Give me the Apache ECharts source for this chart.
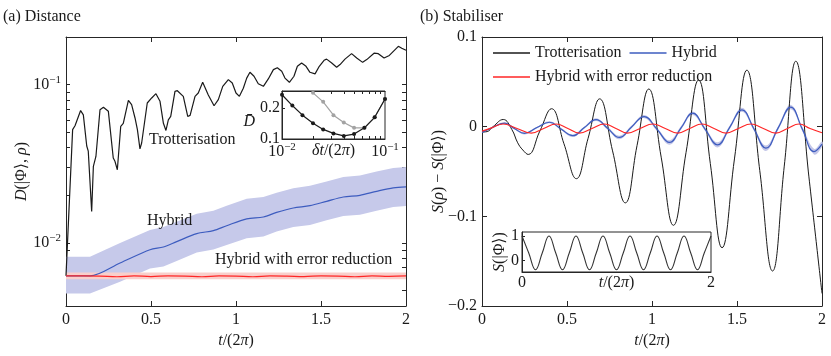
<!DOCTYPE html>
<html>
<head>
<meta charset="utf-8">
<script src="https://cdn.jsdelivr.net/npm/echarts@6/dist/echarts.min.js"></script>
<style>
  html, body { margin: 0; padding: 0; background: #fff; }
  #chart { width: 831px; height: 356px; }
</style>
</head>
<body>
<div id="chart"></div>
<script>
// ---- (a) Distance, main panel ----
const trotTimeA = [0, 0.039, 0.053, 0.086, 0.102, 0.122, 0.131, 0.151, 0.161, 0.176, 0.2, 0.22, 0.249, 0.278, 0.288, 0.302, 0.322, 0.337, 0.367, 0.386, 0.406, 0.42, 0.435, 0.445, 0.478, 0.504, 0.529, 0.553, 0.573, 0.588, 0.602, 0.616, 0.641, 0.655, 0.69, 0.716, 0.73, 0.759, 0.778, 0.804, 0.837, 0.871, 0.896, 0.922, 0.955, 0.978, 1.0, 1.02, 1.043, 1.063, 1.082, 1.106, 1.131, 1.161, 1.19, 1.22, 1.243, 1.269, 1.288, 1.314, 1.341, 1.361, 1.386, 1.412, 1.435, 1.465, 1.49, 1.518, 1.533, 1.563, 1.592, 1.612, 1.641, 1.68, 1.71, 1.745, 1.769, 1.812, 1.837, 1.871, 1.902, 1.955, 1.975, 2.0];
const trotDistA = [0.0062, 0.052, 0.055, 0.0686, 0.0645, 0.041, 0.038, 0.0158, 0.0305, 0.0352, 0.0695, 0.072, 0.068, 0.0344, 0.0328, 0.029, 0.0546, 0.057, 0.0796, 0.0748, 0.0616, 0.052, 0.0393, 0.0428, 0.0766, 0.0824, 0.0877, 0.0785, 0.057, 0.0514, 0.060, 0.063, 0.0908, 0.0916, 0.0844, 0.063, 0.064, 0.0844, 0.0886, 0.1035, 0.086, 0.0736, 0.0804, 0.0976, 0.1076, 0.1025, 0.0886, 0.0844, 0.095, 0.110, 0.1197, 0.113, 0.1014, 0.0976, 0.1087, 0.1244, 0.128, 0.1214, 0.110, 0.1035, 0.113, 0.1306, 0.137, 0.1306, 0.1197, 0.117, 0.1306, 0.1425, 0.145, 0.137, 0.1287, 0.134, 0.145, 0.157, 0.1474, 0.1383, 0.144, 0.158, 0.157, 0.1474, 0.153, 0.1746, 0.170, 0.165];

const hybTimeA = [0, 0.141, 0.318, 0.494, 0.573, 0.651, 0.769, 0.867, 0.945, 1.063, 1.161, 1.239, 1.337, 1.435, 1.533, 1.631, 1.729, 1.827, 1.925, 2.0];
const hybDistA = [0.0062, 0.0062, 0.00748, 0.00907, 0.00943, 0.0102, 0.01146, 0.01197, 0.01286, 0.0142, 0.0146, 0.0156, 0.01663, 0.0172, 0.01833, 0.01953, 0.0200, 0.0212, 0.0223, 0.0226];
const hybHiA = [0.0082, 0.0082, 0.0100, 0.0121, 0.0126, 0.0136, 0.0153, 0.0160, 0.0172, 0.0190, 0.0195, 0.0208, 0.0222, 0.0230, 0.0245, 0.0261, 0.0267, 0.0283, 0.0298, 0.0302];
const hybLoA = [0.0048, 0.0048, 0.0057, 0.0069, 0.0071, 0.0077, 0.0087, 0.0091, 0.0097, 0.0107, 0.0110, 0.0118, 0.0126, 0.0130, 0.0139, 0.0148, 0.0151, 0.0160, 0.0169, 0.0171];

const redTimeA = [0, 0.1, 0.2, 0.3, 0.4, 0.5, 0.6, 0.7, 0.8, 0.9, 1.0, 1.1, 1.2, 1.3, 1.4, 1.5, 1.6, 1.7, 1.8, 1.9, 2.0];
const redDistA = [0.0062, 0.0062, 0.00618, 0.00612, 0.0062, 0.00614, 0.0062, 0.00618, 0.00612, 0.0062, 0.00618, 0.00612, 0.0062, 0.00618, 0.00614, 0.0062, 0.00618, 0.00612, 0.0062, 0.00616, 0.0062];
const redBandTimeA = [0, 1, 2];
const redHiA = [0.0065, 0.0065, 0.0065];
const redLoA = [0.0059, 0.0059, 0.0059];

// ---- (a) inset ----
const dtInset = [0.01, 0.0126, 0.0158, 0.02, 0.0251, 0.0316, 0.0398, 0.0501, 0.0631, 0.0794, 0.1];
const dBarBlack = [0.243, 0.208, 0.177, 0.151, 0.131, 0.118, 0.11, 0.116, 0.136, 0.17, 0.229];
const dBarGrey = [null, null, null, 0.249, 0.22, 0.177, 0.153, 0.136, 0.136, 0.17, 0.229];

// ---- (b) Stabiliser, main panel ----
const trotTimeB = [0, 0.03, 0.065, 0.125, 0.175, 0.21, 0.24, 0.272, 0.34, 0.409, 0.482, 0.555, 0.624, 0.692, 0.768, 0.843, 0.912, 0.981, 1.054, 1.126, 1.2, 1.274, 1.343, 1.412, 1.485, 1.558, 1.634, 1.709, 1.778, 1.846, 1.923, 2.0];
const trotStabB = [-0.006, -0.0055, 0.0, 0.008, -0.003, -0.018, -0.026, -0.031, -0.005, 0.020, -0.019, -0.058, -0.013, 0.031, -0.027, -0.085, -0.021, 0.042, -0.034, -0.110, -0.029, 0.052, -0.041, -0.135, -0.036, 0.063, -0.049, -0.161, -0.044, 0.073, -0.056, -0.186];

const hybTimeB = [0, 0.05, 0.133, 0.19, 0.25, 0.323, 0.397, 0.465, 0.534, 0.602, 0.671, 0.74, 0.808, 0.88, 0.954, 1.03, 1.103, 1.171, 1.239, 1.312, 1.386, 1.457, 1.529, 1.6, 1.67, 1.743, 1.816, 1.885, 1.953, 2.0];
const hybStabB = [-0.0064, -0.002, 0.004, -0.002, -0.0075, -0.001, 0.0049, -0.0026, -0.0101, -0.001, 0.0079, -0.002, -0.012, -0.0003, 0.0113, -0.003, -0.0176, -0.0013, 0.015, -0.0027, -0.0203, -0.0008, 0.0188, -0.0026, -0.024, -0.0011, 0.0218, -0.003, -0.0278, -0.0195];
const hybSpreadB = [0.0005, 0.0008, 0.001, 0.001, 0.0012, 0.001, 0.0012, 0.0012, 0.0015, 0.0012, 0.0015, 0.0015, 0.002, 0.0015, 0.0018, 0.0018, 0.0025, 0.002, 0.002, 0.002, 0.0028, 0.002, 0.0022, 0.0022, 0.003, 0.0022, 0.0025, 0.0025, 0.0032, 0.003];

const redTimeB = [0, 0.06, 0.123, 0.206, 0.29, 0.363, 0.436, 0.505, 0.573, 0.647, 0.72, 0.788, 0.856, 0.93, 1.005, 1.078, 1.151, 1.222, 1.294, 1.365, 1.435, 1.508, 1.582, 1.655, 1.728, 1.797, 1.865, 1.93, 2.0];
const redStabB = [-0.005, -0.001, 0.003, -0.002, -0.0072, -0.002, 0.003, -0.002, -0.0072, -0.002, 0.003, -0.002, -0.0072, -0.002, 0.003, -0.002, -0.0072, -0.002, 0.003, -0.002, -0.0072, -0.002, 0.003, -0.002, -0.0072, -0.002, 0.003, -0.002, -0.0068];

// ---- (b) inset ----
const stabTime = [0, 0.0714, 0.1429, 0.2143, 0.2857, 0.3571, 0.4286, 0.5, 0.5714, 0.6429, 0.7143, 0.7857, 0.8571, 0.9286, 1, 1.0714, 1.1429, 1.2143, 1.2857, 1.3571, 1.4286, 1.5, 1.5714, 1.6429, 1.7143, 1.7857, 1.8571, 1.9286, 2];
const stabPure = [1, 0.31, -0.37, 0.31, 1, 0.31, -0.37, 0.31, 1, 0.31, -0.37, 0.31, 1, 0.31, -0.37, 0.31, 1, 0.31, -0.37, 0.31, 1, 0.31, -0.37, 0.31, 1, 0.31, -0.37, 0.31, 1];

// ---- ticks ----
const logLabelTicks = [0.01, 0.1];
const logTicks = [0.005, 0.006, 0.007, 0.008, 0.009, 0.01, 0.02, 0.03, 0.04, 0.05, 0.06, 0.07, 0.08, 0.09, 0.1];
const insetXTicks = [0.02, 0.03, 0.04, 0.05, 0.06, 0.07, 0.08, 0.09];
const insetXLabels = [0.01, 0.1];
const insetYLabels = [0.1, 0.2];
const stabInsetXLabels = [0, 2];
const stabInsetYLabels = [0, 1];

const FONT = '"Liberation Serif", "DejaVu Serif", serif';
const INK = '#1a1a1a';
const AXIS = '#262626';
const BLUE = '#3d5cbf';
const RED = '#ff2626';

function zip(xs, ys) {
  let out = [];
  for (let i = 0; i < Math.min(xs.length, ys.length); i++) out.push([xs[i], ys[i]]);
  return out;
}

function bandRenderer(times, hi, lo, fill, smooth) {
  return function (params, api) {
    let pts = [];
    for (let i = 0; i < times.length; i++) pts.push(api.coord([times[i], hi[i]]));
    for (let i = times.length - 1; i >= 0; i--) pts.push(api.coord([times[i], lo[i]]));
    return {
      type: 'polygon',
      shape: { points: pts, smooth: smooth },
      style: { fill: fill, stroke: null }
    };
  };
}

const richMath = {
  i: { fontStyle: 'italic', fontFamily: FONT, fontSize: 16, color: INK },
  n: { fontFamily: FONT, fontSize: 16, color: INK }
};
const nameStyle = { fontFamily: FONT, fontSize: 16, color: INK, rich: richMath };
const labelStyle = { fontFamily: FONT, fontSize: 16, color: INK };

function powLabel(v) {
  let e = Math.round(Math.log10(v));
  return '{b|10}{s|−' + (-e) + '}';
}
const powRich = {
  b: { fontFamily: FONT, fontSize: 16, color: INK, lineHeight: 20 },
  s: { fontFamily: FONT, fontSize: 11, color: INK, lineHeight: 11, padding: [0, 0, 9, 0] }
};

function plainAxisLine() {
  return { show: true, onZero: false, lineStyle: { color: AXIS, width: 1 } };
}

// 负号使用 Unicode 减号
function minusFmt(v) {
  if (Math.abs(v) < 1e-9) return '0';
  return v < 0 ? '−' + (+(-v).toFixed(2)) : String(+v.toFixed(2));
}

let myChart = echarts.init(document.getElementById('chart'), null, { renderer: 'canvas' });

let hybHiB = hybStabB.map((v, i) => v + hybSpreadB[i]);
let hybLoB = hybStabB.map((v, i) => v - hybSpreadB[i]);

myChart.setOption({
  animation: false,
  backgroundColor: '#fff',
  textStyle: { fontFamily: FONT },
  grid: [
    { left: 66, top: 37, width: 340, height: 269 },
    { left: 282, top: 91, width: 103, height: 48, show: true, backgroundColor: '#fff', borderColor: AXIS, borderWidth: 1, z: 5 },
    { left: 482, top: 37, width: 340, height: 269 },
    { left: 522, top: 232, width: 189, height: 40, show: true, backgroundColor: '#fff', borderColor: AXIS, borderWidth: 1, z: 5 }
  ],
  xAxis: [
    {
      gridIndex: 0, type: 'value', min: 0, max: 2, interval: 0.5,
      axisLine: plainAxisLine(),
      axisTick: { inside: true, length: 5, lineStyle: { color: AXIS } },
      axisLabel: Object.assign({ margin: 6 }, labelStyle),
      splitLine: { show: false },
      name: '{i|t}{n|/(2}{i|π}{n|)}', nameLocation: 'middle', nameGap: 27, nameMoveOverlap: false, nameTextStyle: nameStyle
    },
    {
      gridIndex: 0, type: 'value', position: 'top', min: 0, max: 2, interval: 0.5,
      axisLine: plainAxisLine(),
      axisTick: { inside: true, length: 5, lineStyle: { color: AXIS } },
      axisLabel: { show: false }, splitLine: { show: false }
    },
    {
      gridIndex: 1, type: 'log', logBase: 10, min: 0.01, max: 0.1, z: 6,
      axisLine: plainAxisLine(),
      axisTick: { inside: true, length: 3, customValues: insetXTicks, lineStyle: { color: AXIS } },
      axisLabel: { customValues: insetXLabels, formatter: powLabel, rich: powRich, margin: 3 },
      splitLine: { show: false }, minorTick: { show: false },
      name: '{i|δt}{n|/(2}{i|π}{n|)}', nameLocation: 'middle', nameGap: 4, nameMoveOverlap: false, nameTextStyle: nameStyle
    },
    {
      gridIndex: 2, type: 'value', min: 0, max: 2, interval: 0.5,
      axisLine: plainAxisLine(),
      axisTick: { inside: true, length: 5, lineStyle: { color: AXIS } },
      axisLabel: Object.assign({ margin: 6 }, labelStyle),
      splitLine: { show: false },
      name: '{i|t}{n|/(2}{i|π}{n|)}', nameLocation: 'middle', nameGap: 27, nameMoveOverlap: false, nameTextStyle: nameStyle
    },
    {
      gridIndex: 2, type: 'value', position: 'top', min: 0, max: 2, interval: 0.5,
      axisLine: plainAxisLine(),
      axisTick: { inside: true, length: 5, lineStyle: { color: AXIS } },
      axisLabel: { show: false }, splitLine: { show: false }
    },
    {
      gridIndex: 3, type: 'value', min: 0, max: 2, z: 6,
      axisLine: plainAxisLine(),
      axisTick: { show: false },
      axisLabel: Object.assign({ customValues: stabInsetXLabels, margin: 3 }, labelStyle),
      splitLine: { show: false },
      name: '{i|t}{n|/(2}{i|π}{n|)}', nameLocation: 'middle', nameGap: 3, nameMoveOverlap: false, nameTextStyle: nameStyle
    },
    {
      gridIndex: 1, type: 'log', logBase: 10, position: 'top', min: 0.01, max: 0.1, z: 6,
      axisLine: plainAxisLine(),
      axisTick: { inside: true, length: 3, customValues: insetXTicks, lineStyle: { color: AXIS } },
      axisLabel: { show: false }, splitLine: { show: false }
    }
  ],
  yAxis: [
    {
      gridIndex: 0, type: 'log', logBase: 10, min: 0.004, max: 0.2,
      axisLine: plainAxisLine(),
      axisTick: { inside: true, length: 4, customValues: logTicks, lineStyle: { color: AXIS } },
      axisLabel: { customValues: logLabelTicks, formatter: powLabel, rich: powRich, margin: 5 },
      splitLine: { show: false }, minorTick: { show: false },
      name: '{i|D}{n|(|Φ⟩, }{i|ρ}{n|)}', nameLocation: 'middle', nameGap: 36, nameMoveOverlap: false, nameTextStyle: nameStyle
    },
    {
      gridIndex: 0, type: 'log', logBase: 10, position: 'right', min: 0.004, max: 0.2,
      axisLine: plainAxisLine(),
      axisTick: { inside: true, length: 4, customValues: logTicks, lineStyle: { color: AXIS } },
      axisLabel: { show: false }, splitLine: { show: false }, minorTick: { show: false }
    },
    {
      gridIndex: 1, type: 'value', min: 0.1, max: 0.255, z: 6,
      axisLine: plainAxisLine(),
      axisTick: { inside: true, length: 3, customValues: [0.2], lineStyle: { color: AXIS } },
      axisLabel: Object.assign({ customValues: insetYLabels, margin: 2 }, labelStyle),
      splitLine: { show: false },
      name: '{i|D̄}', nameLocation: 'middle', nameRotate: 0, nameGap: 27, nameMoveOverlap: false,
      nameTextStyle: Object.assign({ padding: [14, 0, 0, 0] }, nameStyle)
    },
    {
      gridIndex: 2, type: 'value', min: -0.2, max: 0.1, interval: 0.1,
      axisLine: plainAxisLine(),
      axisTick: { inside: true, length: 5, lineStyle: { color: AXIS } },
      axisLabel: Object.assign({ margin: 5, formatter: minusFmt }, labelStyle),
      splitLine: { show: false },
      name: '{i|S}{n|(}{i|ρ}{n|) − }{i|S}{n|(|Φ⟩)}', nameLocation: 'middle', nameGap: 35, nameMoveOverlap: false, nameTextStyle: nameStyle
    },
    {
      gridIndex: 2, type: 'value', position: 'right', min: -0.2, max: 0.1, interval: 0.1,
      axisLine: plainAxisLine(),
      axisTick: { inside: true, length: 5, lineStyle: { color: AXIS } },
      axisLabel: { show: false }, splitLine: { show: false }
    },
    {
      gridIndex: 3, type: 'value', min: -0.46, max: 1.16, z: 6,
      axisLine: plainAxisLine(),
      axisTick: { inside: true, length: 3, customValues: stabInsetYLabels, lineStyle: { color: AXIS } },
      axisLabel: Object.assign({ customValues: stabInsetYLabels, margin: 3 }, labelStyle),
      splitLine: { show: false },
      name: '{i|S}{n|(|Φ⟩)}', nameLocation: 'middle', nameGap: 14, nameMoveOverlap: false, nameTextStyle: nameStyle
    }
  ],
  legend: {
    left: 488, top: 40, width: 250,
    icon: 'rect', itemWidth: 37, itemHeight: 1.3, itemGap: 8,
    textStyle: { fontFamily: FONT, fontSize: 16, color: INK, lineHeight: 14 },
    data: ['Trotterisation', 'Hybrid', 'Hybrid with error reduction']
  },
  graphic: [
    { type: 'text', left: 3, top: 9, style: { text: '(a) Distance', font: '16px ' + FONT, fill: INK } },
    { type: 'text', left: 420, top: 9, style: { text: '(b) Stabiliser', font: '16px ' + FONT, fill: INK } },
    { type: 'text', left: 149, top: 132, z: 10, style: { text: 'Trotterisation', font: '16px ' + FONT, fill: INK } },
    { type: 'text', left: 147, top: 213, z: 10, style: { text: 'Hybrid', font: '16px ' + FONT, fill: INK } },
    { type: 'text', left: 215, top: 252, z: 10, style: { text: 'Hybrid with error reduction', font: '16px ' + FONT, fill: INK } }
  ],
  series: [
    // (a)
    {
      name: 'bandHybA', type: 'custom', xAxisIndex: 0, yAxisIndex: 0, z: 1, silent: true,
      data: [[0, 0.01]], renderItem: bandRenderer(hybTimeA, hybHiA, hybLoA, '#c6c9ea', 0)
    },
    {
      name: 'bandRedA', type: 'custom', xAxisIndex: 0, yAxisIndex: 0, z: 1, silent: true,
      data: [[0, 0.01]], renderItem: bandRenderer(redBandTimeA, redHiA, redLoA, '#f9cfcb', 0)
    },
    {
      name: 'Trotterisation', type: 'line', xAxisIndex: 0, yAxisIndex: 0, z: 2,
      symbol: 'none', lineStyle: { color: INK, width: 1.2 }, itemStyle: { color: INK },
      data: zip(trotTimeA, trotDistA)
    },
    {
      name: 'Hybrid', type: 'line', xAxisIndex: 0, yAxisIndex: 0, z: 2, smooth: 0.3,
      symbol: 'none', lineStyle: { color: BLUE, width: 1.2 }, itemStyle: { color: BLUE },
      data: zip(hybTimeA, hybDistA)
    },
    {
      name: 'Hybrid with error reduction', type: 'line', xAxisIndex: 0, yAxisIndex: 0, z: 2, smooth: 0.4,
      symbol: 'none', lineStyle: { color: RED, width: 1.2 }, itemStyle: { color: RED },
      data: zip(redTimeA, redDistA)
    },
    // (a) inset
    {
      name: 'insetGrey', type: 'line', xAxisIndex: 2, yAxisIndex: 2, z: 7,
      symbol: 'circle', symbolSize: 4, lineStyle: { color: '#a3a3a3', width: 1.2 }, itemStyle: { color: '#a3a3a3' },
      data: zip(dtInset, dBarGrey)
    },
    {
      name: 'insetBlack', type: 'line', xAxisIndex: 2, yAxisIndex: 2, z: 8,
      symbol: 'circle', symbolSize: 4, lineStyle: { color: INK, width: 1.2 }, itemStyle: { color: INK },
      data: zip(dtInset, dBarBlack)
    },
    // (b)
    {
      name: 'bandHybB', type: 'custom', xAxisIndex: 3, yAxisIndex: 3, z: 1, silent: true,
      data: [[0, 0]], renderItem: bandRenderer(hybTimeB, hybHiB, hybLoB, '#c3c6e8', 0.4)
    },
    {
      name: 'Trotterisation', type: 'line', xAxisIndex: 3, yAxisIndex: 3, z: 2, smooth: 0.45,
      symbol: 'none', lineStyle: { color: INK, width: 1 }, itemStyle: { color: INK },
      data: zip(trotTimeB, trotStabB)
    },
    {
      name: 'Hybrid', type: 'line', xAxisIndex: 3, yAxisIndex: 3, z: 3, smooth: 0.45,
      symbol: 'none', lineStyle: { color: BLUE, width: 1.2 }, itemStyle: { color: BLUE },
      data: zip(hybTimeB, hybStabB)
    },
    {
      name: 'Hybrid with error reduction', type: 'line', xAxisIndex: 3, yAxisIndex: 3, z: 3, smooth: 0.45,
      symbol: 'none', lineStyle: { color: RED, width: 1.2 }, itemStyle: { color: RED },
      data: zip(redTimeB, redStabB)
    },
    // (b) inset
    {
      name: 'stabPure', type: 'line', xAxisIndex: 5, yAxisIndex: 5, z: 7, smooth: 0.45,
      symbol: 'none', lineStyle: { color: '#333', width: 1.1 },
      data: zip(stabTime, stabPure)
    }
  ]
});
</script>
</body>
</html>
